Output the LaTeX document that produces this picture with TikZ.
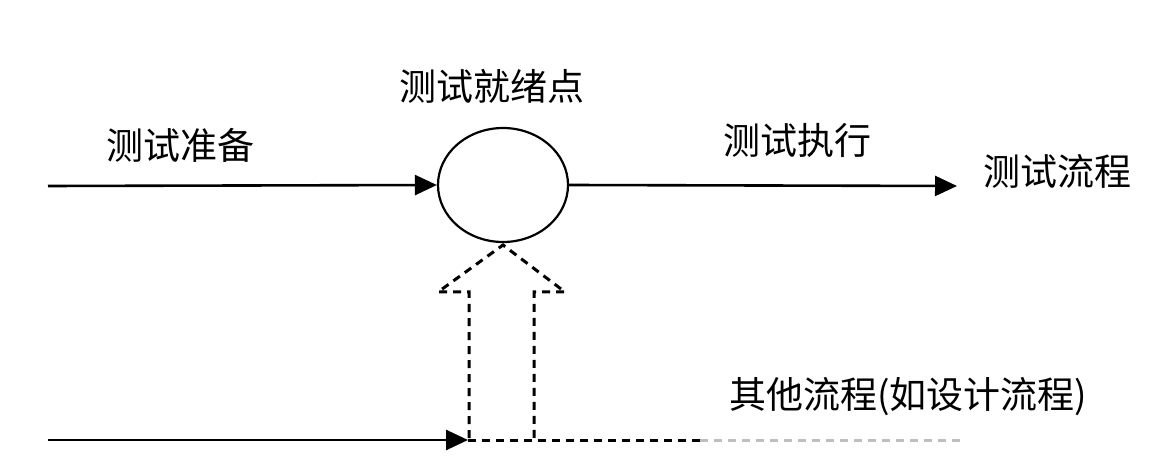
\documentclass[tikz,border=0pt]{standalone}
\usepackage{fontspec}
\newfontfamily\cjk{Noto Sans CJK SC}
\usetikzlibrary{arrows.meta,shapes.geometric}
\begin{document}
\begin{tikzpicture}[x=1pt,y=-1pt,
  lbl/.style={font=\cjk\fontsize{37}{40}\selectfont, inner sep=0pt, anchor=center},
  flow/.style={line width=2.6pt, -{Triangle[length=22pt,width=20pt]}},
  dsh/.style={line width=3pt, dash pattern=on 8pt off 6pt},
  grey/.style={dsh, draw=black!25}]
\useasboundingbox (0,0) rectangle (1167,470);
% nodes
\node[ellipse, draw, line width=2.2pt, minimum width=130pt, minimum height=114pt, inner sep=0pt] (pt) at (503,185) {};
\node[lbl] (tready) at (180,145) {测试准备};
\node[lbl] (tpoint) at (492,86) {测试就绪点};
\node[lbl] (texec) at (797,140) {测试执行};
\node[lbl] (tflow) at (1057,171) {测试流程};
\node[lbl] (tother) at (908,397) {其他流程(如设计流程)};
\coordinate (a0) at (48,186);
\coordinate (a1) at (957,186);
\coordinate (b0) at (48,440);
\coordinate (b1) at (468,440);
\coordinate (b2) at (700,440);
\coordinate (b3) at (962,440);
% block arrow corners
\coordinate (sl) at (469,438);
\coordinate (sr) at (534,438);
\coordinate (hl) at (438,292);
\coordinate (hr) at (565,292);
\coordinate (tip) at (503,245);
% main flow
\draw[flow] (a0) -- (pt.west);
\draw[flow] (pt.east) -- (a1);
% other flow
\draw[flow] (b0) -- (b1);
\draw[dsh] (b1) -- (b2);
\draw[grey] (b2) -- (b3);
% dashed block arrow
\draw[dsh, line join=miter] (sl) -- (sl |- hl) -- (hl) -- (tip) -- (hr) -- (sr |- hr) -- (sr);
\end{tikzpicture}
\end{document}
